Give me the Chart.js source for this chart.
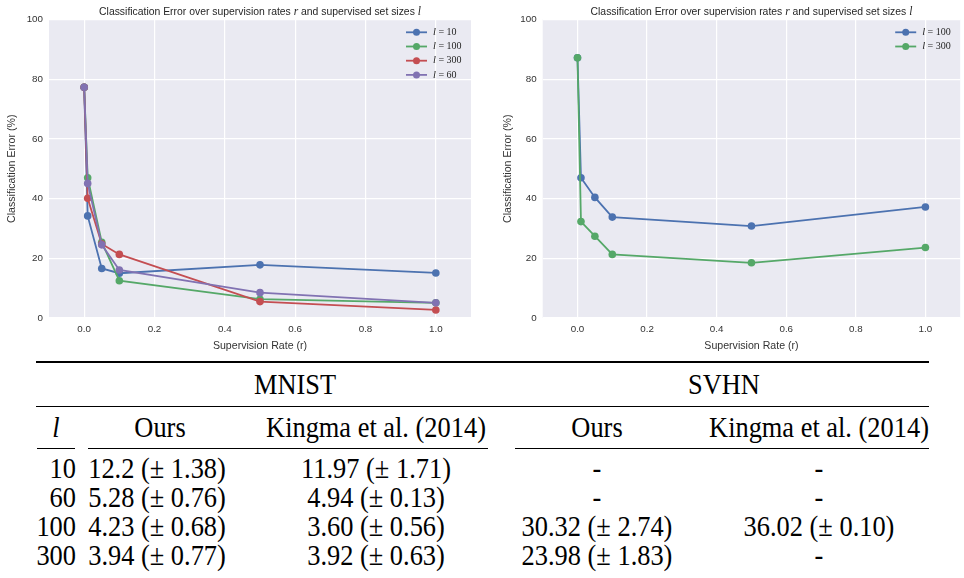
<!DOCTYPE html>
<html><head><meta charset="utf-8">
<script src="https://cdn.jsdelivr.net/npm/chart.js@4.4.0/dist/chart.umd.min.js"></script>
<style>
html,body{margin:0;padding:0;background:#fff;width:964px;height:578px;overflow:hidden;}
#wrap{position:relative;width:964px;height:578px;}
#c1{position:absolute;left:0;top:0;}
#c2{position:absolute;left:494px;top:0;}
.t{position:absolute;white-space:nowrap;font-family:"Liberation Serif","Times New Roman",serif;font-size:29px;line-height:1;color:#000;transform:translate(-50%,-50%) scaleX(0.91);}
.tr{position:absolute;white-space:nowrap;font-family:"Liberation Serif","Times New Roman",serif;font-size:29px;line-height:1;color:#000;transform:translate(-100%,-50%) scaleX(0.91);transform-origin:100% 50%;}
.rule{position:absolute;background:#000;}
</style></head>
<body><div id="wrap">
<canvas id="c1" width="480" height="355"></canvas>
<canvas id="c2" width="470" height="355"></canvas>
<div id="table"></div>
</div>
<script>
// ---- chart data ----
const rates = [0, 0.01, 0.05, 0.1, 0.5, 1.0];
const xTicks = [0, 0.2, 0.4, 0.6, 0.8, 1.0];
const yTicks = [0, 20, 40, 60, 80, 100];
const mnistL10  = [77.3, 34.2, 16.6, 15.0, 17.8, 15.1];
const mnistL100 = [77.3, 47.0, 25.4, 12.5, 6.3, 5.1];
const mnistL300 = [77.3, 40.1, 24.8, 21.3, 5.5, 2.7];
const mnistL60  = [77.3, 45.1, 24.5, 16.1, 8.5, 5.1];
const svhnL100  = [87.2, 47.0, 40.4, 33.8, 30.8, 37.2];
const svhnL300  = [87.2, 32.3, 27.4, 21.3, 18.5, 23.6];
const mnistSizes = ['10', '100', '300', '60'];
const svhnSizes = ['100', '300'];

// ---- table data ----
const tableSizes = ['10', '60', '100', '300'];
const mnistOurs = ['12.2 (±\u00a01.38)', '5.28 (±\u00a00.76)', '4.23 (±\u00a00.68)', '3.94 (±\u00a00.77)'];
const mnistKingma = ['11.97 (±\u00a01.71)', '4.94 (±\u00a00.13)', '3.60 (±\u00a00.56)', '3.92 (±\u00a00.63)'];
const svhnOurs = ['-', '-', '30.32 (±\u00a02.74)', '23.98 (±\u00a01.83)'];
const svhnKingma = ['-', '-', '36.02 (±\u00a00.10)', '-'];

const C = {blue:'#4C72B0', green:'#55A868', red:'#C44E52', purple:'#8172B2'};
const SANS = '"Liberation Sans", Arial, sans-serif';
const SERIF = '"Liberation Serif", "Times New Roman", serif';
const TXT = '#333333';

function ds(size, vals, color, order){
  return {label:size, data:rates.map((r,i)=>({x:r,y:vals[i]})), borderColor:color, backgroundColor:color,
    pointBackgroundColor:color, pointBorderColor:color, pointRadius:3.8, pointBorderWidth:0,
    pointHoverRadius:3.8, borderWidth:1.8, order:order, tension:0, fill:false};
}

const bgPlugin = {id:'bg', beforeDraw(chart){
  const {ctx, chartArea:a} = chart; ctx.save(); ctx.fillStyle='#EAEAF2';
  ctx.fillRect(a.left, a.top, a.right-a.left, a.bottom-a.top); ctx.restore();
}};

const titlePlugin = {id:'mixtitle', afterDraw(chart){
  const {ctx, chartArea:a} = chart;
  const segs = [['Classification Error over supervision rates ', '10.4px '+SANS],
                ['r', 'italic 11.5px '+SERIF],
                [' and supervised set sizes ', '10.4px '+SANS],
                ['l', 'italic 11.5px '+SERIF]];
  ctx.save(); ctx.fillStyle = '#262626'; ctx.textBaseline = 'alphabetic'; ctx.textAlign = 'left';
  let total = 0; segs.forEach(s=>{ctx.font=s[1]; total += ctx.measureText(s[0]).width;});
  let x = (a.left+a.right)/2 - total/2; const y = 15;
  segs.forEach(s=>{ctx.font=s[1]; ctx.fillText(s[0], x, y); x += ctx.measureText(s[0]).width;});
  ctx.restore();
}};

const legendPlugin = {id:'mixlegend', afterDraw(chart){
  const {ctx, chartArea:a} = chart;
  ctx.save(); ctx.textAlign = 'left';
  chart.data.datasets.forEach((d,i)=>{
    const y = a.top + 12.8 + i*14.2;
    const x0 = a.right - 65;
    ctx.strokeStyle = d.borderColor; ctx.lineWidth = 1.8;
    ctx.beginPath(); ctx.moveTo(x0, y); ctx.lineTo(x0+21, y); ctx.stroke();
    ctx.fillStyle = d.borderColor; ctx.beginPath(); ctx.arc(x0+10.5, y, 3.5, 0, Math.PI*2); ctx.fill();
    ctx.fillStyle = '#262626'; ctx.textBaseline = 'middle';
    let x = x0 + 27;
    ctx.font = 'italic 10.5px '+SERIF; ctx.fillText('l', x, y); x += ctx.measureText('l').width;
    ctx.font = '10px '+SERIF; ctx.fillText(' = '+d.label, x, y);
  });
  ctx.restore();
}};

function makeChart(id, datasets, yWidth, yTitlePad, padRight){
  return new Chart(document.getElementById(id), {
    type:'line',
    data:{datasets:datasets},
    options:{
      responsive:false, animation:false, events:[],
      layout:{padding:{top:19.5, right:padRight, left:0, bottom:0}},
      plugins:{legend:{display:false}, title:{display:false}, tooltip:{enabled:false}},
      scales:{
        x:{type:'linear', min:-0.1, max:1.1,
          afterBuildTicks:s=>{s.ticks = xTicks.map(v=>({value:v}));},
          ticks:{callback:v=>Number(v).toFixed(1), color:TXT, font:{family:SANS, size:9.8}, padding:5, maxRotation:0, autoSkip:false},
          grid:{color:'#ffffff', lineWidth:1.2, drawTicks:false},
          border:{display:false},
          title:{display:true, text:'Supervision Rate (r)', color:TXT, font:{family:SANS, size:10.6}, padding:{top:0,bottom:3}},
          afterFit:s=>{s.height = 37;}
        },
        y:{type:'linear', min:0, max:100,
          afterBuildTicks:s=>{s.ticks = yTicks.map(v=>({value:v}));},
          ticks:{color:TXT, font:{family:SANS, size:9.8}, padding:6},
          grid:{color:'#ffffff', lineWidth:1.2, drawTicks:false},
          border:{display:false},
          title:{display:true, text:'Classification Error (%)', color:TXT, font:{family:SANS, size:10.6}, padding:{top:yTitlePad,bottom:0}},
          afterFit:s=>{s.width = yWidth;}
        }
      }
    },
    plugins:[bgPlugin, titlePlugin, legendPlugin]
  });
}

makeChart('c1', [
  ds(mnistSizes[0], mnistL10, C.blue, 4),
  ds(mnistSizes[1], mnistL100, C.green, 3),
  ds(mnistSizes[2], mnistL300, C.red, 2),
  ds(mnistSizes[3], mnistL60, C.purple, 1)
], 49, 5.5, 9);

makeChart('c2', [
  ds(svhnSizes[0], svhnL100, C.blue, 2),
  ds(svhnSizes[1], svhnL300, C.green, 1)
], 48.7, 7.5, 0);

// ---- table ----
const tbl = document.getElementById('table');
function rule(x1, x2, y, h){ const d=document.createElement('div'); d.className='rule';
  d.style.left=x1+'px'; d.style.width=(x2-x1)+'px'; d.style.top=y+'px'; d.style.height=h+'px'; tbl.appendChild(d); }
function txt(s, cx, cy, cls, italic){ const d=document.createElement('div'); d.className=cls||'t';
  d.textContent=s; d.style.left=cx+'px'; d.style.top=cy+'px'; if(italic) d.style.fontStyle='italic'; tbl.appendChild(d); }
rule(36, 929, 361, 2);
rule(36, 929, 405.5, 1.2);
rule(37, 75, 447.5, 1.2); rule(88, 488, 447.5, 1.2); rule(515, 929, 447.5, 1.2);
txt('MNIST', 294.5, 384); txt('SVHN', 724, 384);
txt('l', 56, 427, 't', true);
txt('Ours', 160, 427); txt('Kingma et al. (2014)', 375.5, 427);
txt('Ours', 597, 427); txt('Kingma et al. (2014)', 818.5, 427);
const rowY = [468, 497, 526, 555];
tableSizes.forEach((s,i)=>{
  txt(s, 76, rowY[i], 'tr');
  txt(mnistOurs[i], 157, rowY[i]);
  txt(mnistKingma[i], 375.5, rowY[i]);
  txt(svhnOurs[i], 597, rowY[i]);
  txt(svhnKingma[i], 818.5, rowY[i]);
});
</script>
</body></html>
